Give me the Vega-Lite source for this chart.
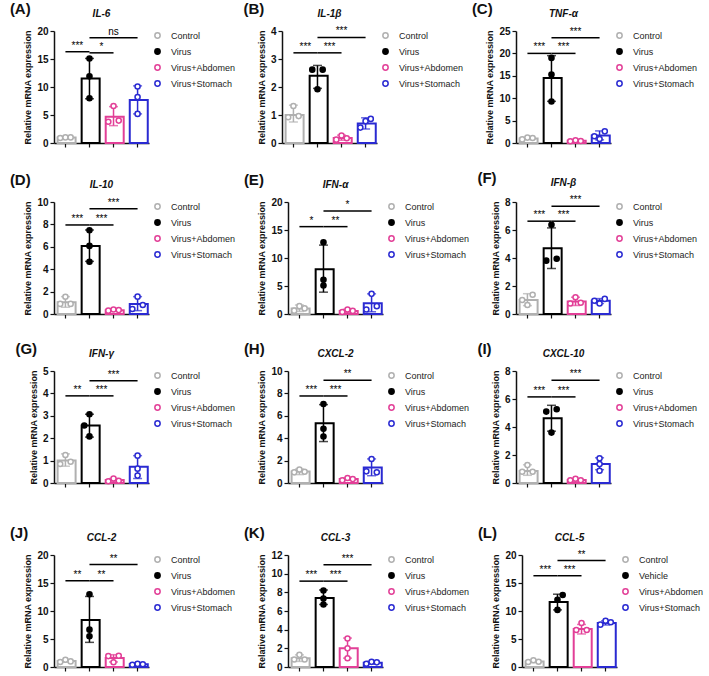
{
"$schema": "https://vega.github.io/schema/vega-lite/v6.json",
"padding": {"left": 9, "top": 2, "right": 0, "bottom": 0},
"config": {
 "font": "Liberation Sans",
 "view": {"stroke": null},
 "axis": {"grid": false, "domainColor": "#111", "tickColor": "#111", "domainWidth": 1.5, "tickWidth": 1.2, "labelColor": "#111", "titleColor": "#111"},
 "axisX": {"labels": false, "tickSize": 4},
 "axisY": {"labelFontSize": 10, "labelFontWeight": "bold", "labelOverlap": false, "tickCount": 12, "format": "d", "titleFontSize": 9, "titleFontWeight": "bold", "tickSize": 4, "titlePadding": 4, "labelPadding": 2},
 "legend": {"labelFontSize": 9, "symbolSize": 28, "symbolStrokeWidth": 1.5, "rowPadding": 3, "labelOffset": 9, "offset": 4, "padding": 0, "labelColor": "#222"},
 "title": {"fontSize": 10, "fontStyle": "italic", "fontWeight": "bold", "offset": 7, "color": "#111"},
 "text": {"font": "Liberation Sans", "color": "#000"}
},
"datasets": {
 "bars": [
  {"panel":"A","group":"Control","mean":1.0,"lo":0.85,"hi":1.15},
  {"panel":"A","group":"Virus","mean":11.5,"lo":7.9,"hi":15.1},
  {"panel":"A","group":"Virus+Abdomen","mean":4.7,"lo":3.1,"hi":6.5},
  {"panel":"A","group":"Virus+Stomach","mean":7.7,"lo":5.2,"hi":10.2},
  {"panel":"B","group":"Control","mean":1.0,"lo":0.75,"hi":1.35},
  {"panel":"B","group":"Virus","mean":2.4,"lo":1.95,"hi":2.77},
  {"panel":"B","group":"Virus+Abdomen","mean":0.18,"lo":0.1,"hi":0.28},
  {"panel":"B","group":"Virus+Stomach","mean":0.7,"lo":0.5,"hi":0.9},
  {"panel":"C","group":"Control","mean":1.0,"lo":0.75,"hi":1.25},
  {"panel":"C","group":"Virus","mean":14.5,"lo":9.3,"hi":19.5},
  {"panel":"C","group":"Virus+Abdomen","mean":0.5,"lo":0.35,"hi":0.65},
  {"panel":"C","group":"Virus+Stomach","mean":1.7,"lo":0.7,"hi":2.7},
  {"panel":"D","group":"Control","mean":1.05,"lo":0.6,"hi":1.55},
  {"panel":"D","group":"Virus","mean":6.08,"lo":4.7,"hi":7.5},
  {"panel":"D","group":"Virus+Abdomen","mean":0.33,"lo":0.25,"hi":0.42},
  {"panel":"D","group":"Virus+Stomach","mean":0.9,"lo":0.3,"hi":1.55},
  {"panel":"E","group":"Control","mean":1.0,"lo":0.45,"hi":1.6},
  {"panel":"E","group":"Virus","mean":8.0,"lo":3.9,"hi":12.3},
  {"panel":"E","group":"Virus+Abdomen","mean":0.55,"lo":0.25,"hi":0.85},
  {"panel":"E","group":"Virus+Stomach","mean":1.9,"lo":0.4,"hi":3.6},
  {"panel":"F","group":"Control","mean":1.0,"lo":0.6,"hi":1.45},
  {"panel":"F","group":"Virus","mean":4.7,"lo":3.25,"hi":6.15},
  {"panel":"F","group":"Virus+Abdomen","mean":0.9,"lo":0.6,"hi":1.2},
  {"panel":"F","group":"Virus+Stomach","mean":0.95,"lo":0.75,"hi":1.1},
  {"panel":"G","group":"Control","mean":1.0,"lo":0.75,"hi":1.3},
  {"panel":"G","group":"Virus","mean":2.57,"lo":2.05,"hi":3.07},
  {"panel":"G","group":"Virus+Abdomen","mean":0.13,"lo":0.07,"hi":0.2},
  {"panel":"G","group":"Virus+Stomach","mean":0.72,"lo":0.2,"hi":1.22},
  {"panel":"H","group":"Control","mean":1.02,"lo":0.75,"hi":1.25},
  {"panel":"H","group":"Virus","mean":5.34,"lo":3.7,"hi":7.0},
  {"panel":"H","group":"Virus+Abdomen","mean":0.35,"lo":0.25,"hi":0.45},
  {"panel":"H","group":"Virus+Stomach","mean":1.39,"lo":0.65,"hi":2.15},
  {"panel":"I","group":"Control","mean":0.85,"lo":0.55,"hi":1.3},
  {"panel":"I","group":"Virus","mean":4.62,"lo":3.7,"hi":5.55},
  {"panel":"I","group":"Virus+Abdomen","mean":0.22,"lo":0.13,"hi":0.3},
  {"panel":"I","group":"Virus+Stomach","mean":1.35,"lo":0.95,"hi":1.8},
  {"panel":"J","group":"Control","mean":1.05,"lo":0.85,"hi":1.3},
  {"panel":"J","group":"Virus","mean":8.4,"lo":4.4,"hi":12.6},
  {"panel":"J","group":"Virus+Abdomen","mean":1.6,"lo":0.9,"hi":2.2},
  {"panel":"J","group":"Virus+Stomach","mean":0.5,"lo":0.35,"hi":0.62},
  {"panel":"K","group":"Control","mean":0.95,"lo":0.6,"hi":1.3},
  {"panel":"K","group":"Virus","mean":7.4,"lo":6.7,"hi":8.25},
  {"panel":"K","group":"Virus+Abdomen","mean":2.0,"lo":0.95,"hi":3.1},
  {"panel":"K","group":"Virus+Stomach","mean":0.45,"lo":0.3,"hi":0.6},
  {"panel":"L","group":"Control","mean":1.0,"lo":0.8,"hi":1.2},
  {"panel":"L","group":"Vehicle","mean":11.6,"lo":10.2,"hi":13.0},
  {"panel":"L","group":"Virus+Abdomen","mean":6.8,"lo":5.9,"hi":7.6},
  {"panel":"L","group":"Virus+Stomach","mean":7.85,"lo":7.5,"hi":8.25}
 ],
 "pts": [
  {"panel":"A","group":"Control","slot":"L","v":0.9},{"panel":"A","group":"Control","slot":"C","v":1.0},{"panel":"A","group":"Control","slot":"R","v":1.0},
  {"panel":"A","group":"Virus","slot":"C","v":15.1},{"panel":"A","group":"Virus","slot":"C","v":11.9},{"panel":"A","group":"Virus","slot":"C","v":8.0},
  {"panel":"A","group":"Virus+Abdomen","slot":"L","v":3.8},{"panel":"A","group":"Virus+Abdomen","slot":"C","v":6.6},{"panel":"A","group":"Virus+Abdomen","slot":"R","v":4.0},
  {"panel":"A","group":"Virus+Stomach","slot":"C","v":10.1},{"panel":"A","group":"Virus+Stomach","slot":"C","v":8.2},{"panel":"A","group":"Virus+Stomach","slot":"C","v":5.2},
  {"panel":"B","group":"Control","slot":"C","v":1.32},{"panel":"B","group":"Control","slot":"L","v":0.92},{"panel":"B","group":"Control","slot":"R","v":0.96},
  {"panel":"B","group":"Virus","slot":"L","v":2.62},{"panel":"B","group":"Virus","slot":"R","v":2.62},{"panel":"B","group":"Virus","slot":"C","v":1.92},
  {"panel":"B","group":"Virus+Abdomen","slot":"L","v":0.12},{"panel":"B","group":"Virus+Abdomen","slot":"C","v":0.27},{"panel":"B","group":"Virus+Abdomen","slot":"R","v":0.17},
  {"panel":"B","group":"Virus+Stomach","slot":"L","v":0.55},{"panel":"B","group":"Virus+Stomach","slot":"C","v":0.78},{"panel":"B","group":"Virus+Stomach","slot":"R","v":0.86},
  {"panel":"C","group":"Control","slot":"L","v":0.8},{"panel":"C","group":"Control","slot":"C","v":1.2},{"panel":"C","group":"Control","slot":"R","v":1.1},
  {"panel":"C","group":"Virus","slot":"C","v":19.0},{"panel":"C","group":"Virus","slot":"C","v":15.3},{"panel":"C","group":"Virus","slot":"C","v":9.25},
  {"panel":"C","group":"Virus+Abdomen","slot":"L","v":0.4},{"panel":"C","group":"Virus+Abdomen","slot":"C","v":0.6},{"panel":"C","group":"Virus+Abdomen","slot":"R","v":0.45},
  {"panel":"C","group":"Virus+Stomach","slot":"L","v":1.5},{"panel":"C","group":"Virus+Stomach","slot":"C","v":0.9},{"panel":"C","group":"Virus+Stomach","slot":"R","v":2.6},
  {"panel":"D","group":"Control","slot":"C","v":1.54},{"panel":"D","group":"Control","slot":"L","v":0.9},{"panel":"D","group":"Control","slot":"R","v":0.9},
  {"panel":"D","group":"Virus","slot":"C","v":7.48},{"panel":"D","group":"Virus","slot":"C","v":6.08},{"panel":"D","group":"Virus","slot":"C","v":4.66},
  {"panel":"D","group":"Virus+Abdomen","slot":"L","v":0.3},{"panel":"D","group":"Virus+Abdomen","slot":"C","v":0.4},{"panel":"D","group":"Virus+Abdomen","slot":"R","v":0.35},
  {"panel":"D","group":"Virus+Stomach","slot":"L","v":0.45},{"panel":"D","group":"Virus+Stomach","slot":"C","v":1.55},{"panel":"D","group":"Virus+Stomach","slot":"R","v":0.8},
  {"panel":"E","group":"Control","slot":"L","v":0.6},{"panel":"E","group":"Control","slot":"C","v":1.4},{"panel":"E","group":"Control","slot":"R","v":1.0},
  {"panel":"E","group":"Virus","slot":"C","v":12.8},{"panel":"E","group":"Virus","slot":"C","v":6.1},{"panel":"E","group":"Virus","slot":"C","v":5.1},
  {"panel":"E","group":"Virus+Abdomen","slot":"L","v":0.35},{"panel":"E","group":"Virus+Abdomen","slot":"C","v":0.8},{"panel":"E","group":"Virus+Abdomen","slot":"R","v":0.55},
  {"panel":"E","group":"Virus+Stomach","slot":"L","v":0.8},{"panel":"E","group":"Virus+Stomach","slot":"C","v":3.6},{"panel":"E","group":"Virus+Stomach","slot":"R","v":1.4},
  {"panel":"F","group":"Control","slot":"R","v":1.37},{"panel":"F","group":"Control","slot":"C","v":0.64},{"panel":"F","group":"Control","slot":"L","v":1.0},
  {"panel":"F","group":"Virus","slot":"C","v":6.37},{"panel":"F","group":"Virus","slot":"L","v":3.81},{"panel":"F","group":"Virus","slot":"R","v":3.95},
  {"panel":"F","group":"Virus+Abdomen","slot":"C","v":1.2},{"panel":"F","group":"Virus+Abdomen","slot":"L","v":0.75},{"panel":"F","group":"Virus+Abdomen","slot":"R","v":0.8},
  {"panel":"F","group":"Virus+Stomach","slot":"L","v":0.95},{"panel":"F","group":"Virus+Stomach","slot":"C","v":0.75},{"panel":"F","group":"Virus+Stomach","slot":"R","v":1.08},
  {"panel":"G","group":"Control","slot":"C","v":1.25},{"panel":"G","group":"Control","slot":"L","v":0.85},{"panel":"G","group":"Control","slot":"R","v":0.95},
  {"panel":"G","group":"Virus","slot":"C","v":3.07},{"panel":"G","group":"Virus","slot":"L","v":2.57},{"panel":"G","group":"Virus","slot":"C","v":2.08},
  {"panel":"G","group":"Virus+Abdomen","slot":"L","v":0.08},{"panel":"G","group":"Virus+Abdomen","slot":"C","v":0.2},{"panel":"G","group":"Virus+Abdomen","slot":"R","v":0.1},
  {"panel":"G","group":"Virus+Stomach","slot":"C","v":1.22},{"panel":"G","group":"Virus+Stomach","slot":"C","v":0.64},{"panel":"G","group":"Virus+Stomach","slot":"C","v":0.33},
  {"panel":"H","group":"Control","slot":"L","v":0.95},{"panel":"H","group":"Control","slot":"C","v":1.2},{"panel":"H","group":"Control","slot":"R","v":1.0},
  {"panel":"H","group":"Virus","slot":"C","v":7.06},{"panel":"H","group":"Virus","slot":"C","v":4.84},{"panel":"H","group":"Virus","slot":"C","v":4.15},
  {"panel":"H","group":"Virus+Abdomen","slot":"L","v":0.25},{"panel":"H","group":"Virus+Abdomen","slot":"C","v":0.45},{"panel":"H","group":"Virus+Abdomen","slot":"R","v":0.35},
  {"panel":"H","group":"Virus+Stomach","slot":"C","v":2.14},{"panel":"H","group":"Virus+Stomach","slot":"R","v":0.95},{"panel":"H","group":"Virus+Stomach","slot":"L","v":1.04},
  {"panel":"I","group":"Control","slot":"C","v":1.28},{"panel":"I","group":"Control","slot":"L","v":0.8},{"panel":"I","group":"Control","slot":"R","v":0.8},
  {"panel":"I","group":"Virus","slot":"L","v":5.1},{"panel":"I","group":"Virus","slot":"R","v":5.27},{"panel":"I","group":"Virus","slot":"C","v":3.6},
  {"panel":"I","group":"Virus+Abdomen","slot":"L","v":0.2},{"panel":"I","group":"Virus+Abdomen","slot":"C","v":0.3},{"panel":"I","group":"Virus+Abdomen","slot":"R","v":0.2},
  {"panel":"I","group":"Virus+Stomach","slot":"C","v":1.76},{"panel":"I","group":"Virus+Stomach","slot":"C","v":1.35},{"panel":"I","group":"Virus+Stomach","slot":"C","v":0.88},
  {"panel":"J","group":"Control","slot":"L","v":0.9},{"panel":"J","group":"Control","slot":"C","v":1.3},{"panel":"J","group":"Control","slot":"R","v":1.0},
  {"panel":"J","group":"Virus","slot":"C","v":13.0},{"panel":"J","group":"Virus","slot":"C","v":6.67},{"panel":"J","group":"Virus","slot":"C","v":5.5},
  {"panel":"J","group":"Virus+Abdomen","slot":"R","v":2.0},{"panel":"J","group":"Virus+Abdomen","slot":"C","v":0.85},{"panel":"J","group":"Virus+Abdomen","slot":"L","v":1.95},
  {"panel":"J","group":"Virus+Stomach","slot":"L","v":0.4},{"panel":"J","group":"Virus+Stomach","slot":"C","v":0.55},{"panel":"J","group":"Virus+Stomach","slot":"R","v":0.5},
  {"panel":"K","group":"Control","slot":"C","v":1.3},{"panel":"K","group":"Control","slot":"L","v":0.8},{"panel":"K","group":"Control","slot":"R","v":0.8},
  {"panel":"K","group":"Virus","slot":"C","v":8.2},{"panel":"K","group":"Virus","slot":"C","v":7.33},{"panel":"K","group":"Virus","slot":"C","v":6.7},
  {"panel":"K","group":"Virus+Abdomen","slot":"C","v":3.06},{"panel":"K","group":"Virus+Abdomen","slot":"C","v":2.0},{"panel":"K","group":"Virus+Abdomen","slot":"C","v":0.93},
  {"panel":"K","group":"Virus+Stomach","slot":"L","v":0.35},{"panel":"K","group":"Virus+Stomach","slot":"C","v":0.55},{"panel":"K","group":"Virus+Stomach","slot":"R","v":0.5},
  {"panel":"L","group":"Control","slot":"L","v":0.9},{"panel":"L","group":"Control","slot":"C","v":1.2},{"panel":"L","group":"Control","slot":"R","v":0.95},
  {"panel":"L","group":"Vehicle","slot":"R","v":12.86},{"panel":"L","group":"Vehicle","slot":"C","v":12.0},{"panel":"L","group":"Vehicle","slot":"C","v":10.2},
  {"panel":"L","group":"Virus+Abdomen","slot":"C","v":7.86},{"panel":"L","group":"Virus+Abdomen","slot":"L","v":6.6},{"panel":"L","group":"Virus+Abdomen","slot":"R","v":6.6},
  {"panel":"L","group":"Virus+Stomach","slot":"L","v":7.56},{"panel":"L","group":"Virus+Stomach","slot":"C","v":8.27},{"panel":"L","group":"Virus+Stomach","slot":"R","v":7.98}
 ],
 "sig": [
  {"panel":"A","from":"Control","to":"Virus","y":16.3,"label":"***","kind":"adj"},
  {"panel":"A","from":"Virus","to":"Virus+Abdomen","y":16.1,"label":"*","kind":"adj"},
  {"panel":"A","from":"Virus","to":"Virus+Stomach","y":18.8,"label":"ns","kind":"long"},
  {"panel":"B","from":"Control","to":"Virus","y":3.22,"label":"***","kind":"adj"},
  {"panel":"B","from":"Virus","to":"Virus+Abdomen","y":3.22,"label":"***","kind":"adj"},
  {"panel":"B","from":"Virus","to":"Virus+Stomach","y":3.77,"label":"***","kind":"long"},
  {"panel":"C","from":"Control","to":"Virus","y":20.0,"label":"***","kind":"adj"},
  {"panel":"C","from":"Virus","to":"Virus+Abdomen","y":20.0,"label":"***","kind":"adj"},
  {"panel":"C","from":"Virus","to":"Virus+Stomach","y":23.5,"label":"***","kind":"long"},
  {"panel":"D","from":"Control","to":"Virus","y":7.95,"label":"***","kind":"adj"},
  {"panel":"D","from":"Virus","to":"Virus+Abdomen","y":7.95,"label":"***","kind":"adj"},
  {"panel":"D","from":"Virus","to":"Virus+Stomach","y":9.4,"label":"***","kind":"long"},
  {"panel":"E","from":"Control","to":"Virus","y":15.6,"label":"*","kind":"adj"},
  {"panel":"E","from":"Virus","to":"Virus+Abdomen","y":15.6,"label":"**","kind":"adj"},
  {"panel":"E","from":"Virus","to":"Virus+Stomach","y":18.4,"label":"*","kind":"long"},
  {"panel":"F","from":"Control","to":"Virus","y":6.63,"label":"***","kind":"adj"},
  {"panel":"F","from":"Virus","to":"Virus+Abdomen","y":6.63,"label":"***","kind":"adj"},
  {"panel":"F","from":"Virus","to":"Virus+Stomach","y":7.7,"label":"***","kind":"long"},
  {"panel":"G","from":"Control","to":"Virus","y":3.89,"label":"**","kind":"adj"},
  {"panel":"G","from":"Virus","to":"Virus+Abdomen","y":3.89,"label":"***","kind":"adj"},
  {"panel":"G","from":"Virus","to":"Virus+Stomach","y":4.57,"label":"***","kind":"long"},
  {"panel":"H","from":"Control","to":"Virus","y":7.77,"label":"***","kind":"adj"},
  {"panel":"H","from":"Virus","to":"Virus+Abdomen","y":7.77,"label":"***","kind":"adj"},
  {"panel":"H","from":"Virus","to":"Virus+Stomach","y":9.17,"label":"**","kind":"long"},
  {"panel":"I","from":"Control","to":"Virus","y":6.15,"label":"***","kind":"adj"},
  {"panel":"I","from":"Virus","to":"Virus+Abdomen","y":6.15,"label":"***","kind":"adj"},
  {"panel":"I","from":"Virus","to":"Virus+Stomach","y":7.34,"label":"***","kind":"long"},
  {"panel":"J","from":"Control","to":"Virus","y":15.4,"label":"**","kind":"adj"},
  {"panel":"J","from":"Virus","to":"Virus+Abdomen","y":15.4,"label":"**","kind":"adj"},
  {"panel":"J","from":"Virus","to":"Virus+Stomach","y":18.3,"label":"**","kind":"long"},
  {"panel":"K","from":"Control","to":"Virus","y":9.2,"label":"***","kind":"adj"},
  {"panel":"K","from":"Virus","to":"Virus+Abdomen","y":9.2,"label":"***","kind":"adj"},
  {"panel":"K","from":"Virus","to":"Virus+Stomach","y":10.95,"label":"***","kind":"long"},
  {"panel":"L","from":"Control","to":"Vehicle","y":16.3,"label":"***","kind":"adj"},
  {"panel":"L","from":"Vehicle","to":"Virus+Abdomen","y":16.3,"label":"***","kind":"adj"},
  {"panel":"L","from":"Vehicle","to":"Virus+Stomach","y":19.0,"label":"**","kind":"long"}
 ]
},
"resolve": {"scale": {"fill": "independent", "stroke": "independent", "color": "independent"}},
"spacing": 37,
"vconcat": [
 {
  "resolve": {"scale": {"fill": "independent", "stroke": "independent", "color": "independent"}},
  "spacing": 23,
  "vconcat": [
   {
    "resolve": {"scale": {"fill": "independent", "stroke": "independent", "color": "independent"}},
    "spacing": 7,
    "hconcat": [
     {"title": {"text": "(A)", "anchor": "start", "frame": "bounds", "fontSize": 15, "fontStyle": "normal", "fontWeight": "bold", "offset": -8, "dx": -14},
      "resolve": {"scale": {"fill": "independent", "stroke": "independent", "color": "independent"}},
      "hconcat": [{"title": {"text": "IL-6"}, "width": 95, "height": 112, "layer": [
       {"data": {"name": "bars"}, "transform": [{"filter": "datum.panel==='A'"}], "mark": {"type": "bar", "filled": false, "fill": "#ffffff", "strokeWidth": 2},
        "encoding": {"x": {"field": "group", "type": "nominal", "title": null, "scale": {"domain": ["Control","Virus","Virus+Abdomen","Virus+Stomach"], "paddingInner": 0.35, "paddingOuter": 0.15}},
         "y": {"field": "mean", "type": "quantitative", "title": "Relative mRNA expression", "scale": {"domain": [0, 20], "nice": false}, "axis": {"values": [0,5,10,15,20], "format": "d", "labelOverlap": false}},
         "color": {"field": "group", "type": "nominal", "scale": {"domain": ["Virus+Stomach","Virus+Abdomen","Virus","Control"], "range": ["#2a2ad2","#e23f97","#000000","#b0b0b0"]}, "legend": null}}},
       {"data": {"name": "bars"}, "transform": [{"filter": "datum.panel==='A'"}], "mark": {"type": "rule", "strokeWidth": 1.5},
        "encoding": {"x": {"field": "group", "type": "nominal", "title": null}, "y": {"field": "lo", "type": "quantitative", "title": "Relative mRNA expression"}, "y2": {"field": "hi"}, "color": {"field": "group", "type": "nominal", "legend": null}}},
       {"data": {"name": "bars"}, "transform": [{"filter": "datum.panel==='A'"}, {"fold": ["lo","hi"], "as": ["end","ev"]}], "mark": {"type": "tick", "size": 9, "thickness": 1.5},
        "encoding": {"x": {"field": "group", "type": "nominal", "title": null}, "y": {"field": "ev", "type": "quantitative", "title": "Relative mRNA expression"}, "color": {"field": "group", "type": "nominal", "legend": null}}},
       {"data": {"name": "pts"}, "transform": [{"filter": "datum.panel==='A'"}], "mark": {"type": "point", "shape": "circle", "filled": true, "size": 26, "strokeWidth": 1.5, "opacity": 1},
        "encoding": {"x": {"field": "group", "type": "nominal", "title": null}, "xOffset": {"field": "slot", "type": "nominal", "scale": {"domain": ["L","C","R"]}}, "y": {"field": "v", "type": "quantitative", "title": "Relative mRNA expression"},
         "fill": {"field": "group", "type": "nominal", "title": null, "scale": {"domain": ["Control","Virus","Virus+Abdomen","Virus+Stomach"], "range": ["#ffffff","#000000","#ffffff","#ffffff"]}},
         "stroke": {"field": "group", "type": "nominal", "title": null, "scale": {"domain": ["Control","Virus","Virus+Abdomen","Virus+Stomach"], "range": ["#b0b0b0","#000000","#e23f97","#2a2ad2"]}}}},
       {"data": {"name": "sig"}, "transform": [{"filter": "datum.panel==='A'"}], "mark": {"type": "rule", "strokeWidth": 1.5, "color": "#000"},
        "encoding": {"x": {"field": "from", "type": "nominal", "title": null}, "x2": {"field": "to"}, "y": {"field": "y", "type": "quantitative", "title": "Relative mRNA expression"}}},
       {"data": {"name": "sig"}, "transform": [{"filter": "datum.panel==='A' && datum.kind==='adj'"}], "mark": {"type": "text", "dx": 12, "dy": -1, "baseline": "bottom", "fontSize": 10},
        "encoding": {"x": {"field": "from", "type": "nominal", "title": null}, "y": {"field": "y", "type": "quantitative", "title": "Relative mRNA expression"}, "text": {"field": "label"}}},
       {"data": {"name": "sig"}, "transform": [{"filter": "datum.panel==='A' && datum.kind==='long'"}], "mark": {"type": "text", "dx": -24, "dy": -1, "baseline": "bottom", "fontSize": 10},
        "encoding": {"x": {"field": "to", "type": "nominal", "title": null}, "y": {"field": "y", "type": "quantitative", "title": "Relative mRNA expression"}, "text": {"field": "label"}}}
      ]}]},
     {"title": {"text": "(B)", "anchor": "start", "frame": "bounds", "fontSize": 15, "fontStyle": "normal", "fontWeight": "bold", "offset": -8, "dx": -14},
      "resolve": {"scale": {"fill": "independent", "stroke": "independent", "color": "independent"}},
      "hconcat": [{"title": {"text": "IL-1β"}, "width": 95, "height": 112, "layer": [
       {"data": {"name": "bars"}, "transform": [{"filter": "datum.panel==='B'"}], "mark": {"type": "bar", "filled": false, "fill": "#ffffff", "strokeWidth": 2},
        "encoding": {"x": {"field": "group", "type": "nominal", "title": null, "scale": {"domain": ["Control","Virus","Virus+Abdomen","Virus+Stomach"], "paddingInner": 0.35, "paddingOuter": 0.15}},
         "y": {"field": "mean", "type": "quantitative", "title": "Relative mRNA expression", "scale": {"domain": [0, 4], "nice": false}, "axis": {"values": [0,1,2,3,4], "format": "d", "labelOverlap": false}},
         "color": {"field": "group", "type": "nominal", "scale": {"domain": ["Virus+Stomach","Virus+Abdomen","Virus","Control"], "range": ["#2a2ad2","#e23f97","#000000","#b0b0b0"]}, "legend": null}}},
       {"data": {"name": "bars"}, "transform": [{"filter": "datum.panel==='B'"}], "mark": {"type": "rule", "strokeWidth": 1.5},
        "encoding": {"x": {"field": "group", "type": "nominal", "title": null}, "y": {"field": "lo", "type": "quantitative", "title": "Relative mRNA expression"}, "y2": {"field": "hi"}, "color": {"field": "group", "type": "nominal", "legend": null}}},
       {"data": {"name": "bars"}, "transform": [{"filter": "datum.panel==='B'"}, {"fold": ["lo","hi"], "as": ["end","ev"]}], "mark": {"type": "tick", "size": 9, "thickness": 1.5},
        "encoding": {"x": {"field": "group", "type": "nominal", "title": null}, "y": {"field": "ev", "type": "quantitative", "title": "Relative mRNA expression"}, "color": {"field": "group", "type": "nominal", "legend": null}}},
       {"data": {"name": "pts"}, "transform": [{"filter": "datum.panel==='B'"}], "mark": {"type": "point", "shape": "circle", "filled": true, "size": 26, "strokeWidth": 1.5, "opacity": 1},
        "encoding": {"x": {"field": "group", "type": "nominal", "title": null}, "xOffset": {"field": "slot", "type": "nominal", "scale": {"domain": ["L","C","R"]}}, "y": {"field": "v", "type": "quantitative", "title": "Relative mRNA expression"},
         "fill": {"field": "group", "type": "nominal", "title": null, "scale": {"domain": ["Control","Virus","Virus+Abdomen","Virus+Stomach"], "range": ["#ffffff","#000000","#ffffff","#ffffff"]}},
         "stroke": {"field": "group", "type": "nominal", "title": null, "scale": {"domain": ["Control","Virus","Virus+Abdomen","Virus+Stomach"], "range": ["#b0b0b0","#000000","#e23f97","#2a2ad2"]}}}},
       {"data": {"name": "sig"}, "transform": [{"filter": "datum.panel==='B'"}], "mark": {"type": "rule", "strokeWidth": 1.5, "color": "#000"},
        "encoding": {"x": {"field": "from", "type": "nominal", "title": null}, "x2": {"field": "to"}, "y": {"field": "y", "type": "quantitative", "title": "Relative mRNA expression"}}},
       {"data": {"name": "sig"}, "transform": [{"filter": "datum.panel==='B' && datum.kind==='adj'"}], "mark": {"type": "text", "dx": 12, "dy": -1, "baseline": "bottom", "fontSize": 10},
        "encoding": {"x": {"field": "from", "type": "nominal", "title": null}, "y": {"field": "y", "type": "quantitative", "title": "Relative mRNA expression"}, "text": {"field": "label"}}},
       {"data": {"name": "sig"}, "transform": [{"filter": "datum.panel==='B' && datum.kind==='long'"}], "mark": {"type": "text", "dx": -24, "dy": -1, "baseline": "bottom", "fontSize": 10},
        "encoding": {"x": {"field": "to", "type": "nominal", "title": null}, "y": {"field": "y", "type": "quantitative", "title": "Relative mRNA expression"}, "text": {"field": "label"}}}
      ]}]},
     {"title": {"text": "(C)", "anchor": "start", "frame": "bounds", "fontSize": 15, "fontStyle": "normal", "fontWeight": "bold", "offset": -8, "dx": -14},
      "resolve": {"scale": {"fill": "independent", "stroke": "independent", "color": "independent"}},
      "hconcat": [{"title": {"text": "TNF-α"}, "width": 95, "height": 112, "layer": [
       {"data": {"name": "bars"}, "transform": [{"filter": "datum.panel==='C'"}], "mark": {"type": "bar", "filled": false, "fill": "#ffffff", "strokeWidth": 2},
        "encoding": {"x": {"field": "group", "type": "nominal", "title": null, "scale": {"domain": ["Control","Virus","Virus+Abdomen","Virus+Stomach"], "paddingInner": 0.35, "paddingOuter": 0.15}},
         "y": {"field": "mean", "type": "quantitative", "title": "Relative mRNA expression", "scale": {"domain": [0, 25], "nice": false}, "axis": {"values": [0,5,10,15,20,25], "format": "d", "labelOverlap": false}},
         "color": {"field": "group", "type": "nominal", "scale": {"domain": ["Virus+Stomach","Virus+Abdomen","Virus","Control"], "range": ["#2a2ad2","#e23f97","#000000","#b0b0b0"]}, "legend": null}}},
       {"data": {"name": "bars"}, "transform": [{"filter": "datum.panel==='C'"}], "mark": {"type": "rule", "strokeWidth": 1.5},
        "encoding": {"x": {"field": "group", "type": "nominal", "title": null}, "y": {"field": "lo", "type": "quantitative", "title": "Relative mRNA expression"}, "y2": {"field": "hi"}, "color": {"field": "group", "type": "nominal", "legend": null}}},
       {"data": {"name": "bars"}, "transform": [{"filter": "datum.panel==='C'"}, {"fold": ["lo","hi"], "as": ["end","ev"]}], "mark": {"type": "tick", "size": 9, "thickness": 1.5},
        "encoding": {"x": {"field": "group", "type": "nominal", "title": null}, "y": {"field": "ev", "type": "quantitative", "title": "Relative mRNA expression"}, "color": {"field": "group", "type": "nominal", "legend": null}}},
       {"data": {"name": "pts"}, "transform": [{"filter": "datum.panel==='C'"}], "mark": {"type": "point", "shape": "circle", "filled": true, "size": 26, "strokeWidth": 1.5, "opacity": 1},
        "encoding": {"x": {"field": "group", "type": "nominal", "title": null}, "xOffset": {"field": "slot", "type": "nominal", "scale": {"domain": ["L","C","R"]}}, "y": {"field": "v", "type": "quantitative", "title": "Relative mRNA expression"},
         "fill": {"field": "group", "type": "nominal", "title": null, "scale": {"domain": ["Control","Virus","Virus+Abdomen","Virus+Stomach"], "range": ["#ffffff","#000000","#ffffff","#ffffff"]}},
         "stroke": {"field": "group", "type": "nominal", "title": null, "scale": {"domain": ["Control","Virus","Virus+Abdomen","Virus+Stomach"], "range": ["#b0b0b0","#000000","#e23f97","#2a2ad2"]}}}},
       {"data": {"name": "sig"}, "transform": [{"filter": "datum.panel==='C'"}], "mark": {"type": "rule", "strokeWidth": 1.5, "color": "#000"},
        "encoding": {"x": {"field": "from", "type": "nominal", "title": null}, "x2": {"field": "to"}, "y": {"field": "y", "type": "quantitative", "title": "Relative mRNA expression"}}},
       {"data": {"name": "sig"}, "transform": [{"filter": "datum.panel==='C' && datum.kind==='adj'"}], "mark": {"type": "text", "dx": 12, "dy": -1, "baseline": "bottom", "fontSize": 10},
        "encoding": {"x": {"field": "from", "type": "nominal", "title": null}, "y": {"field": "y", "type": "quantitative", "title": "Relative mRNA expression"}, "text": {"field": "label"}}},
       {"data": {"name": "sig"}, "transform": [{"filter": "datum.panel==='C' && datum.kind==='long'"}], "mark": {"type": "text", "dx": -24, "dy": -1, "baseline": "bottom", "fontSize": 10},
        "encoding": {"x": {"field": "to", "type": "nominal", "title": null}, "y": {"field": "y", "type": "quantitative", "title": "Relative mRNA expression"}, "text": {"field": "label"}}}
      ]}]}
    ]
   },
   {
    "resolve": {"scale": {"fill": "independent", "stroke": "independent", "color": "independent"}},
    "spacing": 7,
    "hconcat": [
     {"title": {"text": "(D)", "anchor": "start", "frame": "bounds", "fontSize": 15, "fontStyle": "normal", "fontWeight": "bold", "offset": -8, "dx": -14},
      "resolve": {"scale": {"fill": "independent", "stroke": "independent", "color": "independent"}},
      "hconcat": [{"title": {"text": "IL-10"}, "width": 95, "height": 112, "layer": [
       {"data": {"name": "bars"}, "transform": [{"filter": "datum.panel==='D'"}], "mark": {"type": "bar", "filled": false, "fill": "#ffffff", "strokeWidth": 2},
        "encoding": {"x": {"field": "group", "type": "nominal", "title": null, "scale": {"domain": ["Control","Virus","Virus+Abdomen","Virus+Stomach"], "paddingInner": 0.35, "paddingOuter": 0.15}},
         "y": {"field": "mean", "type": "quantitative", "title": "Relative mRNA expression", "scale": {"domain": [0, 10], "nice": false}, "axis": {"values": [0,2,4,6,8,10], "format": "d", "labelOverlap": false}},
         "color": {"field": "group", "type": "nominal", "scale": {"domain": ["Virus+Stomach","Virus+Abdomen","Virus","Control"], "range": ["#2a2ad2","#e23f97","#000000","#b0b0b0"]}, "legend": null}}},
       {"data": {"name": "bars"}, "transform": [{"filter": "datum.panel==='D'"}], "mark": {"type": "rule", "strokeWidth": 1.5},
        "encoding": {"x": {"field": "group", "type": "nominal", "title": null}, "y": {"field": "lo", "type": "quantitative", "title": "Relative mRNA expression"}, "y2": {"field": "hi"}, "color": {"field": "group", "type": "nominal", "legend": null}}},
       {"data": {"name": "bars"}, "transform": [{"filter": "datum.panel==='D'"}, {"fold": ["lo","hi"], "as": ["end","ev"]}], "mark": {"type": "tick", "size": 9, "thickness": 1.5},
        "encoding": {"x": {"field": "group", "type": "nominal", "title": null}, "y": {"field": "ev", "type": "quantitative", "title": "Relative mRNA expression"}, "color": {"field": "group", "type": "nominal", "legend": null}}},
       {"data": {"name": "pts"}, "transform": [{"filter": "datum.panel==='D'"}], "mark": {"type": "point", "shape": "circle", "filled": true, "size": 26, "strokeWidth": 1.5, "opacity": 1},
        "encoding": {"x": {"field": "group", "type": "nominal", "title": null}, "xOffset": {"field": "slot", "type": "nominal", "scale": {"domain": ["L","C","R"]}}, "y": {"field": "v", "type": "quantitative", "title": "Relative mRNA expression"},
         "fill": {"field": "group", "type": "nominal", "title": null, "scale": {"domain": ["Control","Virus","Virus+Abdomen","Virus+Stomach"], "range": ["#ffffff","#000000","#ffffff","#ffffff"]}},
         "stroke": {"field": "group", "type": "nominal", "title": null, "scale": {"domain": ["Control","Virus","Virus+Abdomen","Virus+Stomach"], "range": ["#b0b0b0","#000000","#e23f97","#2a2ad2"]}}}},
       {"data": {"name": "sig"}, "transform": [{"filter": "datum.panel==='D'"}], "mark": {"type": "rule", "strokeWidth": 1.5, "color": "#000"},
        "encoding": {"x": {"field": "from", "type": "nominal", "title": null}, "x2": {"field": "to"}, "y": {"field": "y", "type": "quantitative", "title": "Relative mRNA expression"}}},
       {"data": {"name": "sig"}, "transform": [{"filter": "datum.panel==='D' && datum.kind==='adj'"}], "mark": {"type": "text", "dx": 12, "dy": -1, "baseline": "bottom", "fontSize": 10},
        "encoding": {"x": {"field": "from", "type": "nominal", "title": null}, "y": {"field": "y", "type": "quantitative", "title": "Relative mRNA expression"}, "text": {"field": "label"}}},
       {"data": {"name": "sig"}, "transform": [{"filter": "datum.panel==='D' && datum.kind==='long'"}], "mark": {"type": "text", "dx": -24, "dy": -1, "baseline": "bottom", "fontSize": 10},
        "encoding": {"x": {"field": "to", "type": "nominal", "title": null}, "y": {"field": "y", "type": "quantitative", "title": "Relative mRNA expression"}, "text": {"field": "label"}}}
      ]}]},
     {"title": {"text": "(E)", "anchor": "start", "frame": "bounds", "fontSize": 15, "fontStyle": "normal", "fontWeight": "bold", "offset": -8, "dx": -14},
      "resolve": {"scale": {"fill": "independent", "stroke": "independent", "color": "independent"}},
      "hconcat": [{"title": {"text": "IFN-α"}, "width": 95, "height": 112, "layer": [
       {"data": {"name": "bars"}, "transform": [{"filter": "datum.panel==='E'"}], "mark": {"type": "bar", "filled": false, "fill": "#ffffff", "strokeWidth": 2},
        "encoding": {"x": {"field": "group", "type": "nominal", "title": null, "scale": {"domain": ["Control","Virus","Virus+Abdomen","Virus+Stomach"], "paddingInner": 0.35, "paddingOuter": 0.15}},
         "y": {"field": "mean", "type": "quantitative", "title": "Relative mRNA expression", "scale": {"domain": [0, 20], "nice": false}, "axis": {"values": [0,5,10,15,20], "format": "d", "labelOverlap": false}},
         "color": {"field": "group", "type": "nominal", "scale": {"domain": ["Virus+Stomach","Virus+Abdomen","Virus","Control"], "range": ["#2a2ad2","#e23f97","#000000","#b0b0b0"]}, "legend": null}}},
       {"data": {"name": "bars"}, "transform": [{"filter": "datum.panel==='E'"}], "mark": {"type": "rule", "strokeWidth": 1.5},
        "encoding": {"x": {"field": "group", "type": "nominal", "title": null}, "y": {"field": "lo", "type": "quantitative", "title": "Relative mRNA expression"}, "y2": {"field": "hi"}, "color": {"field": "group", "type": "nominal", "legend": null}}},
       {"data": {"name": "bars"}, "transform": [{"filter": "datum.panel==='E'"}, {"fold": ["lo","hi"], "as": ["end","ev"]}], "mark": {"type": "tick", "size": 9, "thickness": 1.5},
        "encoding": {"x": {"field": "group", "type": "nominal", "title": null}, "y": {"field": "ev", "type": "quantitative", "title": "Relative mRNA expression"}, "color": {"field": "group", "type": "nominal", "legend": null}}},
       {"data": {"name": "pts"}, "transform": [{"filter": "datum.panel==='E'"}], "mark": {"type": "point", "shape": "circle", "filled": true, "size": 26, "strokeWidth": 1.5, "opacity": 1},
        "encoding": {"x": {"field": "group", "type": "nominal", "title": null}, "xOffset": {"field": "slot", "type": "nominal", "scale": {"domain": ["L","C","R"]}}, "y": {"field": "v", "type": "quantitative", "title": "Relative mRNA expression"},
         "fill": {"field": "group", "type": "nominal", "title": null, "scale": {"domain": ["Control","Virus","Virus+Abdomen","Virus+Stomach"], "range": ["#ffffff","#000000","#ffffff","#ffffff"]}},
         "stroke": {"field": "group", "type": "nominal", "title": null, "scale": {"domain": ["Control","Virus","Virus+Abdomen","Virus+Stomach"], "range": ["#b0b0b0","#000000","#e23f97","#2a2ad2"]}}}},
       {"data": {"name": "sig"}, "transform": [{"filter": "datum.panel==='E'"}], "mark": {"type": "rule", "strokeWidth": 1.5, "color": "#000"},
        "encoding": {"x": {"field": "from", "type": "nominal", "title": null}, "x2": {"field": "to"}, "y": {"field": "y", "type": "quantitative", "title": "Relative mRNA expression"}}},
       {"data": {"name": "sig"}, "transform": [{"filter": "datum.panel==='E' && datum.kind==='adj'"}], "mark": {"type": "text", "dx": 12, "dy": -1, "baseline": "bottom", "fontSize": 10},
        "encoding": {"x": {"field": "from", "type": "nominal", "title": null}, "y": {"field": "y", "type": "quantitative", "title": "Relative mRNA expression"}, "text": {"field": "label"}}},
       {"data": {"name": "sig"}, "transform": [{"filter": "datum.panel==='E' && datum.kind==='long'"}], "mark": {"type": "text", "dx": -24, "dy": -1, "baseline": "bottom", "fontSize": 10},
        "encoding": {"x": {"field": "to", "type": "nominal", "title": null}, "y": {"field": "y", "type": "quantitative", "title": "Relative mRNA expression"}, "text": {"field": "label"}}}
      ]}]},
     {"title": {"text": "(F)", "anchor": "start", "frame": "bounds", "fontSize": 15, "fontStyle": "normal", "fontWeight": "bold", "offset": -8, "dx": -14},
      "resolve": {"scale": {"fill": "independent", "stroke": "independent", "color": "independent"}},
      "hconcat": [{"title": {"text": "IFN-β"}, "width": 95, "height": 112, "layer": [
       {"data": {"name": "bars"}, "transform": [{"filter": "datum.panel==='F'"}], "mark": {"type": "bar", "filled": false, "fill": "#ffffff", "strokeWidth": 2},
        "encoding": {"x": {"field": "group", "type": "nominal", "title": null, "scale": {"domain": ["Control","Virus","Virus+Abdomen","Virus+Stomach"], "paddingInner": 0.35, "paddingOuter": 0.15}},
         "y": {"field": "mean", "type": "quantitative", "title": "Relative mRNA expression", "scale": {"domain": [0, 8], "nice": false}, "axis": {"values": [0,2,4,6,8], "format": "d", "labelOverlap": false}},
         "color": {"field": "group", "type": "nominal", "scale": {"domain": ["Virus+Stomach","Virus+Abdomen","Virus","Control"], "range": ["#2a2ad2","#e23f97","#000000","#b0b0b0"]}, "legend": null}}},
       {"data": {"name": "bars"}, "transform": [{"filter": "datum.panel==='F'"}], "mark": {"type": "rule", "strokeWidth": 1.5},
        "encoding": {"x": {"field": "group", "type": "nominal", "title": null}, "y": {"field": "lo", "type": "quantitative", "title": "Relative mRNA expression"}, "y2": {"field": "hi"}, "color": {"field": "group", "type": "nominal", "legend": null}}},
       {"data": {"name": "bars"}, "transform": [{"filter": "datum.panel==='F'"}, {"fold": ["lo","hi"], "as": ["end","ev"]}], "mark": {"type": "tick", "size": 9, "thickness": 1.5},
        "encoding": {"x": {"field": "group", "type": "nominal", "title": null}, "y": {"field": "ev", "type": "quantitative", "title": "Relative mRNA expression"}, "color": {"field": "group", "type": "nominal", "legend": null}}},
       {"data": {"name": "pts"}, "transform": [{"filter": "datum.panel==='F'"}], "mark": {"type": "point", "shape": "circle", "filled": true, "size": 26, "strokeWidth": 1.5, "opacity": 1},
        "encoding": {"x": {"field": "group", "type": "nominal", "title": null}, "xOffset": {"field": "slot", "type": "nominal", "scale": {"domain": ["L","C","R"]}}, "y": {"field": "v", "type": "quantitative", "title": "Relative mRNA expression"},
         "fill": {"field": "group", "type": "nominal", "title": null, "scale": {"domain": ["Control","Virus","Virus+Abdomen","Virus+Stomach"], "range": ["#ffffff","#000000","#ffffff","#ffffff"]}},
         "stroke": {"field": "group", "type": "nominal", "title": null, "scale": {"domain": ["Control","Virus","Virus+Abdomen","Virus+Stomach"], "range": ["#b0b0b0","#000000","#e23f97","#2a2ad2"]}}}},
       {"data": {"name": "sig"}, "transform": [{"filter": "datum.panel==='F'"}], "mark": {"type": "rule", "strokeWidth": 1.5, "color": "#000"},
        "encoding": {"x": {"field": "from", "type": "nominal", "title": null}, "x2": {"field": "to"}, "y": {"field": "y", "type": "quantitative", "title": "Relative mRNA expression"}}},
       {"data": {"name": "sig"}, "transform": [{"filter": "datum.panel==='F' && datum.kind==='adj'"}], "mark": {"type": "text", "dx": 12, "dy": -1, "baseline": "bottom", "fontSize": 10},
        "encoding": {"x": {"field": "from", "type": "nominal", "title": null}, "y": {"field": "y", "type": "quantitative", "title": "Relative mRNA expression"}, "text": {"field": "label"}}},
       {"data": {"name": "sig"}, "transform": [{"filter": "datum.panel==='F' && datum.kind==='long'"}], "mark": {"type": "text", "dx": -24, "dy": -1, "baseline": "bottom", "fontSize": 10},
        "encoding": {"x": {"field": "to", "type": "nominal", "title": null}, "y": {"field": "y", "type": "quantitative", "title": "Relative mRNA expression"}, "text": {"field": "label"}}}
      ]}]}
    ]
   },
   {
    "resolve": {"scale": {"fill": "independent", "stroke": "independent", "color": "independent"}},
    "spacing": 7,
    "hconcat": [
     {"title": {"text": "(G)", "anchor": "start", "frame": "bounds", "fontSize": 15, "fontStyle": "normal", "fontWeight": "bold", "offset": -8, "dx": -14},
      "resolve": {"scale": {"fill": "independent", "stroke": "independent", "color": "independent"}},
      "hconcat": [{"title": {"text": "IFN-γ"}, "width": 95, "height": 112, "layer": [
       {"data": {"name": "bars"}, "transform": [{"filter": "datum.panel==='G'"}], "mark": {"type": "bar", "filled": false, "fill": "#ffffff", "strokeWidth": 2},
        "encoding": {"x": {"field": "group", "type": "nominal", "title": null, "scale": {"domain": ["Control","Virus","Virus+Abdomen","Virus+Stomach"], "paddingInner": 0.35, "paddingOuter": 0.15}},
         "y": {"field": "mean", "type": "quantitative", "title": "Relative mRNA expression", "scale": {"domain": [0, 5], "nice": false}, "axis": {"values": [0,1,2,3,4,5], "format": "d", "labelOverlap": false}},
         "color": {"field": "group", "type": "nominal", "scale": {"domain": ["Virus+Stomach","Virus+Abdomen","Virus","Control"], "range": ["#2a2ad2","#e23f97","#000000","#b0b0b0"]}, "legend": null}}},
       {"data": {"name": "bars"}, "transform": [{"filter": "datum.panel==='G'"}], "mark": {"type": "rule", "strokeWidth": 1.5},
        "encoding": {"x": {"field": "group", "type": "nominal", "title": null}, "y": {"field": "lo", "type": "quantitative", "title": "Relative mRNA expression"}, "y2": {"field": "hi"}, "color": {"field": "group", "type": "nominal", "legend": null}}},
       {"data": {"name": "bars"}, "transform": [{"filter": "datum.panel==='G'"}, {"fold": ["lo","hi"], "as": ["end","ev"]}], "mark": {"type": "tick", "size": 9, "thickness": 1.5},
        "encoding": {"x": {"field": "group", "type": "nominal", "title": null}, "y": {"field": "ev", "type": "quantitative", "title": "Relative mRNA expression"}, "color": {"field": "group", "type": "nominal", "legend": null}}},
       {"data": {"name": "pts"}, "transform": [{"filter": "datum.panel==='G'"}], "mark": {"type": "point", "shape": "circle", "filled": true, "size": 26, "strokeWidth": 1.5, "opacity": 1},
        "encoding": {"x": {"field": "group", "type": "nominal", "title": null}, "xOffset": {"field": "slot", "type": "nominal", "scale": {"domain": ["L","C","R"]}}, "y": {"field": "v", "type": "quantitative", "title": "Relative mRNA expression"},
         "fill": {"field": "group", "type": "nominal", "title": null, "scale": {"domain": ["Control","Virus","Virus+Abdomen","Virus+Stomach"], "range": ["#ffffff","#000000","#ffffff","#ffffff"]}},
         "stroke": {"field": "group", "type": "nominal", "title": null, "scale": {"domain": ["Control","Virus","Virus+Abdomen","Virus+Stomach"], "range": ["#b0b0b0","#000000","#e23f97","#2a2ad2"]}}}},
       {"data": {"name": "sig"}, "transform": [{"filter": "datum.panel==='G'"}], "mark": {"type": "rule", "strokeWidth": 1.5, "color": "#000"},
        "encoding": {"x": {"field": "from", "type": "nominal", "title": null}, "x2": {"field": "to"}, "y": {"field": "y", "type": "quantitative", "title": "Relative mRNA expression"}}},
       {"data": {"name": "sig"}, "transform": [{"filter": "datum.panel==='G' && datum.kind==='adj'"}], "mark": {"type": "text", "dx": 12, "dy": -1, "baseline": "bottom", "fontSize": 10},
        "encoding": {"x": {"field": "from", "type": "nominal", "title": null}, "y": {"field": "y", "type": "quantitative", "title": "Relative mRNA expression"}, "text": {"field": "label"}}},
       {"data": {"name": "sig"}, "transform": [{"filter": "datum.panel==='G' && datum.kind==='long'"}], "mark": {"type": "text", "dx": -24, "dy": -1, "baseline": "bottom", "fontSize": 10},
        "encoding": {"x": {"field": "to", "type": "nominal", "title": null}, "y": {"field": "y", "type": "quantitative", "title": "Relative mRNA expression"}, "text": {"field": "label"}}}
      ]}]},
     {"title": {"text": "(H)", "anchor": "start", "frame": "bounds", "fontSize": 15, "fontStyle": "normal", "fontWeight": "bold", "offset": -8, "dx": -14},
      "resolve": {"scale": {"fill": "independent", "stroke": "independent", "color": "independent"}},
      "hconcat": [{"title": {"text": "CXCL-2"}, "width": 95, "height": 112, "layer": [
       {"data": {"name": "bars"}, "transform": [{"filter": "datum.panel==='H'"}], "mark": {"type": "bar", "filled": false, "fill": "#ffffff", "strokeWidth": 2},
        "encoding": {"x": {"field": "group", "type": "nominal", "title": null, "scale": {"domain": ["Control","Virus","Virus+Abdomen","Virus+Stomach"], "paddingInner": 0.35, "paddingOuter": 0.15}},
         "y": {"field": "mean", "type": "quantitative", "title": "Relative mRNA expression", "scale": {"domain": [0, 10], "nice": false}, "axis": {"values": [0,2,4,6,8,10], "format": "d", "labelOverlap": false}},
         "color": {"field": "group", "type": "nominal", "scale": {"domain": ["Virus+Stomach","Virus+Abdomen","Virus","Control"], "range": ["#2a2ad2","#e23f97","#000000","#b0b0b0"]}, "legend": null}}},
       {"data": {"name": "bars"}, "transform": [{"filter": "datum.panel==='H'"}], "mark": {"type": "rule", "strokeWidth": 1.5},
        "encoding": {"x": {"field": "group", "type": "nominal", "title": null}, "y": {"field": "lo", "type": "quantitative", "title": "Relative mRNA expression"}, "y2": {"field": "hi"}, "color": {"field": "group", "type": "nominal", "legend": null}}},
       {"data": {"name": "bars"}, "transform": [{"filter": "datum.panel==='H'"}, {"fold": ["lo","hi"], "as": ["end","ev"]}], "mark": {"type": "tick", "size": 9, "thickness": 1.5},
        "encoding": {"x": {"field": "group", "type": "nominal", "title": null}, "y": {"field": "ev", "type": "quantitative", "title": "Relative mRNA expression"}, "color": {"field": "group", "type": "nominal", "legend": null}}},
       {"data": {"name": "pts"}, "transform": [{"filter": "datum.panel==='H'"}], "mark": {"type": "point", "shape": "circle", "filled": true, "size": 26, "strokeWidth": 1.5, "opacity": 1},
        "encoding": {"x": {"field": "group", "type": "nominal", "title": null}, "xOffset": {"field": "slot", "type": "nominal", "scale": {"domain": ["L","C","R"]}}, "y": {"field": "v", "type": "quantitative", "title": "Relative mRNA expression"},
         "fill": {"field": "group", "type": "nominal", "title": null, "scale": {"domain": ["Control","Virus","Virus+Abdomen","Virus+Stomach"], "range": ["#ffffff","#000000","#ffffff","#ffffff"]}},
         "stroke": {"field": "group", "type": "nominal", "title": null, "scale": {"domain": ["Control","Virus","Virus+Abdomen","Virus+Stomach"], "range": ["#b0b0b0","#000000","#e23f97","#2a2ad2"]}}}},
       {"data": {"name": "sig"}, "transform": [{"filter": "datum.panel==='H'"}], "mark": {"type": "rule", "strokeWidth": 1.5, "color": "#000"},
        "encoding": {"x": {"field": "from", "type": "nominal", "title": null}, "x2": {"field": "to"}, "y": {"field": "y", "type": "quantitative", "title": "Relative mRNA expression"}}},
       {"data": {"name": "sig"}, "transform": [{"filter": "datum.panel==='H' && datum.kind==='adj'"}], "mark": {"type": "text", "dx": 12, "dy": -1, "baseline": "bottom", "fontSize": 10},
        "encoding": {"x": {"field": "from", "type": "nominal", "title": null}, "y": {"field": "y", "type": "quantitative", "title": "Relative mRNA expression"}, "text": {"field": "label"}}},
       {"data": {"name": "sig"}, "transform": [{"filter": "datum.panel==='H' && datum.kind==='long'"}], "mark": {"type": "text", "dx": -24, "dy": -1, "baseline": "bottom", "fontSize": 10},
        "encoding": {"x": {"field": "to", "type": "nominal", "title": null}, "y": {"field": "y", "type": "quantitative", "title": "Relative mRNA expression"}, "text": {"field": "label"}}}
      ]}]},
     {"title": {"text": "(I)", "anchor": "start", "frame": "bounds", "fontSize": 15, "fontStyle": "normal", "fontWeight": "bold", "offset": -8, "dx": -14},
      "resolve": {"scale": {"fill": "independent", "stroke": "independent", "color": "independent"}},
      "hconcat": [{"title": {"text": "CXCL-10"}, "width": 95, "height": 112, "layer": [
       {"data": {"name": "bars"}, "transform": [{"filter": "datum.panel==='I'"}], "mark": {"type": "bar", "filled": false, "fill": "#ffffff", "strokeWidth": 2},
        "encoding": {"x": {"field": "group", "type": "nominal", "title": null, "scale": {"domain": ["Control","Virus","Virus+Abdomen","Virus+Stomach"], "paddingInner": 0.35, "paddingOuter": 0.15}},
         "y": {"field": "mean", "type": "quantitative", "title": "Relative mRNA expression", "scale": {"domain": [0, 8], "nice": false}, "axis": {"values": [0,2,4,6,8], "format": "d", "labelOverlap": false}},
         "color": {"field": "group", "type": "nominal", "scale": {"domain": ["Virus+Stomach","Virus+Abdomen","Virus","Control"], "range": ["#2a2ad2","#e23f97","#000000","#b0b0b0"]}, "legend": null}}},
       {"data": {"name": "bars"}, "transform": [{"filter": "datum.panel==='I'"}], "mark": {"type": "rule", "strokeWidth": 1.5},
        "encoding": {"x": {"field": "group", "type": "nominal", "title": null}, "y": {"field": "lo", "type": "quantitative", "title": "Relative mRNA expression"}, "y2": {"field": "hi"}, "color": {"field": "group", "type": "nominal", "legend": null}}},
       {"data": {"name": "bars"}, "transform": [{"filter": "datum.panel==='I'"}, {"fold": ["lo","hi"], "as": ["end","ev"]}], "mark": {"type": "tick", "size": 9, "thickness": 1.5},
        "encoding": {"x": {"field": "group", "type": "nominal", "title": null}, "y": {"field": "ev", "type": "quantitative", "title": "Relative mRNA expression"}, "color": {"field": "group", "type": "nominal", "legend": null}}},
       {"data": {"name": "pts"}, "transform": [{"filter": "datum.panel==='I'"}], "mark": {"type": "point", "shape": "circle", "filled": true, "size": 26, "strokeWidth": 1.5, "opacity": 1},
        "encoding": {"x": {"field": "group", "type": "nominal", "title": null}, "xOffset": {"field": "slot", "type": "nominal", "scale": {"domain": ["L","C","R"]}}, "y": {"field": "v", "type": "quantitative", "title": "Relative mRNA expression"},
         "fill": {"field": "group", "type": "nominal", "title": null, "scale": {"domain": ["Control","Virus","Virus+Abdomen","Virus+Stomach"], "range": ["#ffffff","#000000","#ffffff","#ffffff"]}},
         "stroke": {"field": "group", "type": "nominal", "title": null, "scale": {"domain": ["Control","Virus","Virus+Abdomen","Virus+Stomach"], "range": ["#b0b0b0","#000000","#e23f97","#2a2ad2"]}}}},
       {"data": {"name": "sig"}, "transform": [{"filter": "datum.panel==='I'"}], "mark": {"type": "rule", "strokeWidth": 1.5, "color": "#000"},
        "encoding": {"x": {"field": "from", "type": "nominal", "title": null}, "x2": {"field": "to"}, "y": {"field": "y", "type": "quantitative", "title": "Relative mRNA expression"}}},
       {"data": {"name": "sig"}, "transform": [{"filter": "datum.panel==='I' && datum.kind==='adj'"}], "mark": {"type": "text", "dx": 12, "dy": -1, "baseline": "bottom", "fontSize": 10},
        "encoding": {"x": {"field": "from", "type": "nominal", "title": null}, "y": {"field": "y", "type": "quantitative", "title": "Relative mRNA expression"}, "text": {"field": "label"}}},
       {"data": {"name": "sig"}, "transform": [{"filter": "datum.panel==='I' && datum.kind==='long'"}], "mark": {"type": "text", "dx": -24, "dy": -1, "baseline": "bottom", "fontSize": 10},
        "encoding": {"x": {"field": "to", "type": "nominal", "title": null}, "y": {"field": "y", "type": "quantitative", "title": "Relative mRNA expression"}, "text": {"field": "label"}}}
      ]}]}
    ]
   }
  ]
 },
 {
  "resolve": {"scale": {"fill": "independent", "stroke": "independent", "color": "independent"}},
  "spacing": 7,
  "hconcat": [
   {"title": {"text": "(J)", "anchor": "start", "frame": "bounds", "fontSize": 15, "fontStyle": "normal", "fontWeight": "bold", "offset": -8, "dx": -14},
    "resolve": {"scale": {"fill": "independent", "stroke": "independent", "color": "independent"}},
    "hconcat": [{"title": {"text": "CCL-2"}, "width": 95, "height": 112, "layer": [
     {"data": {"name": "bars"}, "transform": [{"filter": "datum.panel==='J'"}], "mark": {"type": "bar", "filled": false, "fill": "#ffffff", "strokeWidth": 2},
      "encoding": {"x": {"field": "group", "type": "nominal", "title": null, "scale": {"domain": ["Control","Virus","Virus+Abdomen","Virus+Stomach"], "paddingInner": 0.35, "paddingOuter": 0.15}},
       "y": {"field": "mean", "type": "quantitative", "title": "Relative mRNA expression", "scale": {"domain": [0, 20], "nice": false}, "axis": {"values": [0,5,10,15,20], "format": "d", "labelOverlap": false}},
       "color": {"field": "group", "type": "nominal", "scale": {"domain": ["Virus+Stomach","Virus+Abdomen","Virus","Control"], "range": ["#2a2ad2","#e23f97","#000000","#b0b0b0"]}, "legend": null}}},
     {"data": {"name": "bars"}, "transform": [{"filter": "datum.panel==='J'"}], "mark": {"type": "rule", "strokeWidth": 1.5},
      "encoding": {"x": {"field": "group", "type": "nominal", "title": null}, "y": {"field": "lo", "type": "quantitative", "title": "Relative mRNA expression"}, "y2": {"field": "hi"}, "color": {"field": "group", "type": "nominal", "legend": null}}},
     {"data": {"name": "bars"}, "transform": [{"filter": "datum.panel==='J'"}, {"fold": ["lo","hi"], "as": ["end","ev"]}], "mark": {"type": "tick", "size": 9, "thickness": 1.5},
      "encoding": {"x": {"field": "group", "type": "nominal", "title": null}, "y": {"field": "ev", "type": "quantitative", "title": "Relative mRNA expression"}, "color": {"field": "group", "type": "nominal", "legend": null}}},
     {"data": {"name": "pts"}, "transform": [{"filter": "datum.panel==='J'"}], "mark": {"type": "point", "shape": "circle", "filled": true, "size": 26, "strokeWidth": 1.5, "opacity": 1},
      "encoding": {"x": {"field": "group", "type": "nominal", "title": null}, "xOffset": {"field": "slot", "type": "nominal", "scale": {"domain": ["L","C","R"]}}, "y": {"field": "v", "type": "quantitative", "title": "Relative mRNA expression"},
       "fill": {"field": "group", "type": "nominal", "title": null, "scale": {"domain": ["Control","Virus","Virus+Abdomen","Virus+Stomach"], "range": ["#ffffff","#000000","#ffffff","#ffffff"]}},
       "stroke": {"field": "group", "type": "nominal", "title": null, "scale": {"domain": ["Control","Virus","Virus+Abdomen","Virus+Stomach"], "range": ["#b0b0b0","#000000","#e23f97","#2a2ad2"]}}}},
     {"data": {"name": "sig"}, "transform": [{"filter": "datum.panel==='J'"}], "mark": {"type": "rule", "strokeWidth": 1.5, "color": "#000"},
      "encoding": {"x": {"field": "from", "type": "nominal", "title": null}, "x2": {"field": "to"}, "y": {"field": "y", "type": "quantitative", "title": "Relative mRNA expression"}}},
     {"data": {"name": "sig"}, "transform": [{"filter": "datum.panel==='J' && datum.kind==='adj'"}], "mark": {"type": "text", "dx": 12, "dy": -1, "baseline": "bottom", "fontSize": 10},
      "encoding": {"x": {"field": "from", "type": "nominal", "title": null}, "y": {"field": "y", "type": "quantitative", "title": "Relative mRNA expression"}, "text": {"field": "label"}}},
     {"data": {"name": "sig"}, "transform": [{"filter": "datum.panel==='J' && datum.kind==='long'"}], "mark": {"type": "text", "dx": -24, "dy": -1, "baseline": "bottom", "fontSize": 10},
      "encoding": {"x": {"field": "to", "type": "nominal", "title": null}, "y": {"field": "y", "type": "quantitative", "title": "Relative mRNA expression"}, "text": {"field": "label"}}}
    ]}]},
   {"title": {"text": "(K)", "anchor": "start", "frame": "bounds", "fontSize": 15, "fontStyle": "normal", "fontWeight": "bold", "offset": -8, "dx": -14},
    "resolve": {"scale": {"fill": "independent", "stroke": "independent", "color": "independent"}},
    "hconcat": [{"title": {"text": "CCL-3"}, "width": 95, "height": 112, "layer": [
     {"data": {"name": "bars"}, "transform": [{"filter": "datum.panel==='K'"}], "mark": {"type": "bar", "filled": false, "fill": "#ffffff", "strokeWidth": 2},
      "encoding": {"x": {"field": "group", "type": "nominal", "title": null, "scale": {"domain": ["Control","Virus","Virus+Abdomen","Virus+Stomach"], "paddingInner": 0.35, "paddingOuter": 0.15}},
       "y": {"field": "mean", "type": "quantitative", "title": "Relative mRNA expression", "scale": {"domain": [0, 12], "nice": false}, "axis": {"values": [0,2,4,6,8,10,12], "format": "d", "labelOverlap": false}},
       "color": {"field": "group", "type": "nominal", "scale": {"domain": ["Virus+Stomach","Virus+Abdomen","Virus","Control"], "range": ["#2a2ad2","#e23f97","#000000","#b0b0b0"]}, "legend": null}}},
     {"data": {"name": "bars"}, "transform": [{"filter": "datum.panel==='K'"}], "mark": {"type": "rule", "strokeWidth": 1.5},
      "encoding": {"x": {"field": "group", "type": "nominal", "title": null}, "y": {"field": "lo", "type": "quantitative", "title": "Relative mRNA expression"}, "y2": {"field": "hi"}, "color": {"field": "group", "type": "nominal", "legend": null}}},
     {"data": {"name": "bars"}, "transform": [{"filter": "datum.panel==='K'"}, {"fold": ["lo","hi"], "as": ["end","ev"]}], "mark": {"type": "tick", "size": 9, "thickness": 1.5},
      "encoding": {"x": {"field": "group", "type": "nominal", "title": null}, "y": {"field": "ev", "type": "quantitative", "title": "Relative mRNA expression"}, "color": {"field": "group", "type": "nominal", "legend": null}}},
     {"data": {"name": "pts"}, "transform": [{"filter": "datum.panel==='K'"}], "mark": {"type": "point", "shape": "circle", "filled": true, "size": 26, "strokeWidth": 1.5, "opacity": 1},
      "encoding": {"x": {"field": "group", "type": "nominal", "title": null}, "xOffset": {"field": "slot", "type": "nominal", "scale": {"domain": ["L","C","R"]}}, "y": {"field": "v", "type": "quantitative", "title": "Relative mRNA expression"},
       "fill": {"field": "group", "type": "nominal", "title": null, "scale": {"domain": ["Control","Virus","Virus+Abdomen","Virus+Stomach"], "range": ["#ffffff","#000000","#ffffff","#ffffff"]}},
       "stroke": {"field": "group", "type": "nominal", "title": null, "scale": {"domain": ["Control","Virus","Virus+Abdomen","Virus+Stomach"], "range": ["#b0b0b0","#000000","#e23f97","#2a2ad2"]}}}},
     {"data": {"name": "sig"}, "transform": [{"filter": "datum.panel==='K'"}], "mark": {"type": "rule", "strokeWidth": 1.5, "color": "#000"},
      "encoding": {"x": {"field": "from", "type": "nominal", "title": null}, "x2": {"field": "to"}, "y": {"field": "y", "type": "quantitative", "title": "Relative mRNA expression"}}},
     {"data": {"name": "sig"}, "transform": [{"filter": "datum.panel==='K' && datum.kind==='adj'"}], "mark": {"type": "text", "dx": 12, "dy": -1, "baseline": "bottom", "fontSize": 10},
      "encoding": {"x": {"field": "from", "type": "nominal", "title": null}, "y": {"field": "y", "type": "quantitative", "title": "Relative mRNA expression"}, "text": {"field": "label"}}},
     {"data": {"name": "sig"}, "transform": [{"filter": "datum.panel==='K' && datum.kind==='long'"}], "mark": {"type": "text", "dx": -24, "dy": -1, "baseline": "bottom", "fontSize": 10},
      "encoding": {"x": {"field": "to", "type": "nominal", "title": null}, "y": {"field": "y", "type": "quantitative", "title": "Relative mRNA expression"}, "text": {"field": "label"}}}
    ]}]},
   {"title": {"text": "(L)", "anchor": "start", "frame": "bounds", "fontSize": 15, "fontStyle": "normal", "fontWeight": "bold", "offset": -8, "dx": -14},
    "resolve": {"scale": {"fill": "independent", "stroke": "independent", "color": "independent"}},
    "hconcat": [{"title": {"text": "CCL-5"}, "width": 95, "height": 112, "layer": [
     {"data": {"name": "bars"}, "transform": [{"filter": "datum.panel==='L'"}], "mark": {"type": "bar", "filled": false, "fill": "#ffffff", "strokeWidth": 2},
      "encoding": {"x": {"field": "group", "type": "nominal", "title": null, "scale": {"domain": ["Control","Vehicle","Virus+Abdomen","Virus+Stomach"], "paddingInner": 0.35, "paddingOuter": 0.15}},
       "y": {"field": "mean", "type": "quantitative", "title": "Relative mRNA expression", "scale": {"domain": [0, 20], "nice": false}, "axis": {"values": [0,5,10,15,20], "format": "d", "labelOverlap": false}},
       "color": {"field": "group", "type": "nominal", "scale": {"domain": ["Virus+Stomach","Virus+Abdomen","Vehicle","Control"], "range": ["#2a2ad2","#e23f97","#000000","#b0b0b0"]}, "legend": null}}},
     {"data": {"name": "bars"}, "transform": [{"filter": "datum.panel==='L'"}], "mark": {"type": "rule", "strokeWidth": 1.5},
      "encoding": {"x": {"field": "group", "type": "nominal", "title": null}, "y": {"field": "lo", "type": "quantitative", "title": "Relative mRNA expression"}, "y2": {"field": "hi"}, "color": {"field": "group", "type": "nominal", "legend": null}}},
     {"data": {"name": "bars"}, "transform": [{"filter": "datum.panel==='L'"}, {"fold": ["lo","hi"], "as": ["end","ev"]}], "mark": {"type": "tick", "size": 9, "thickness": 1.5},
      "encoding": {"x": {"field": "group", "type": "nominal", "title": null}, "y": {"field": "ev", "type": "quantitative", "title": "Relative mRNA expression"}, "color": {"field": "group", "type": "nominal", "legend": null}}},
     {"data": {"name": "pts"}, "transform": [{"filter": "datum.panel==='L'"}], "mark": {"type": "point", "shape": "circle", "filled": true, "size": 26, "strokeWidth": 1.5, "opacity": 1},
      "encoding": {"x": {"field": "group", "type": "nominal", "title": null}, "xOffset": {"field": "slot", "type": "nominal", "scale": {"domain": ["L","C","R"]}}, "y": {"field": "v", "type": "quantitative", "title": "Relative mRNA expression"},
       "fill": {"field": "group", "type": "nominal", "title": null, "scale": {"domain": ["Control","Vehicle","Virus+Abdomen","Virus+Stomach"], "range": ["#ffffff","#000000","#ffffff","#ffffff"]}},
       "stroke": {"field": "group", "type": "nominal", "title": null, "scale": {"domain": ["Control","Vehicle","Virus+Abdomen","Virus+Stomach"], "range": ["#b0b0b0","#000000","#e23f97","#2a2ad2"]}}}},
     {"data": {"name": "sig"}, "transform": [{"filter": "datum.panel==='L'"}], "mark": {"type": "rule", "strokeWidth": 1.5, "color": "#000"},
      "encoding": {"x": {"field": "from", "type": "nominal", "title": null}, "x2": {"field": "to"}, "y": {"field": "y", "type": "quantitative", "title": "Relative mRNA expression"}}},
     {"data": {"name": "sig"}, "transform": [{"filter": "datum.panel==='L' && datum.kind==='adj'"}], "mark": {"type": "text", "dx": 12, "dy": -1, "baseline": "bottom", "fontSize": 10},
      "encoding": {"x": {"field": "from", "type": "nominal", "title": null}, "y": {"field": "y", "type": "quantitative", "title": "Relative mRNA expression"}, "text": {"field": "label"}}},
     {"data": {"name": "sig"}, "transform": [{"filter": "datum.panel==='L' && datum.kind==='long'"}], "mark": {"type": "text", "dx": -24, "dy": -1, "baseline": "bottom", "fontSize": 10},
      "encoding": {"x": {"field": "to", "type": "nominal", "title": null}, "y": {"field": "y", "type": "quantitative", "title": "Relative mRNA expression"}, "text": {"field": "label"}}}
    ]}]}
  ]
 }
]
}
